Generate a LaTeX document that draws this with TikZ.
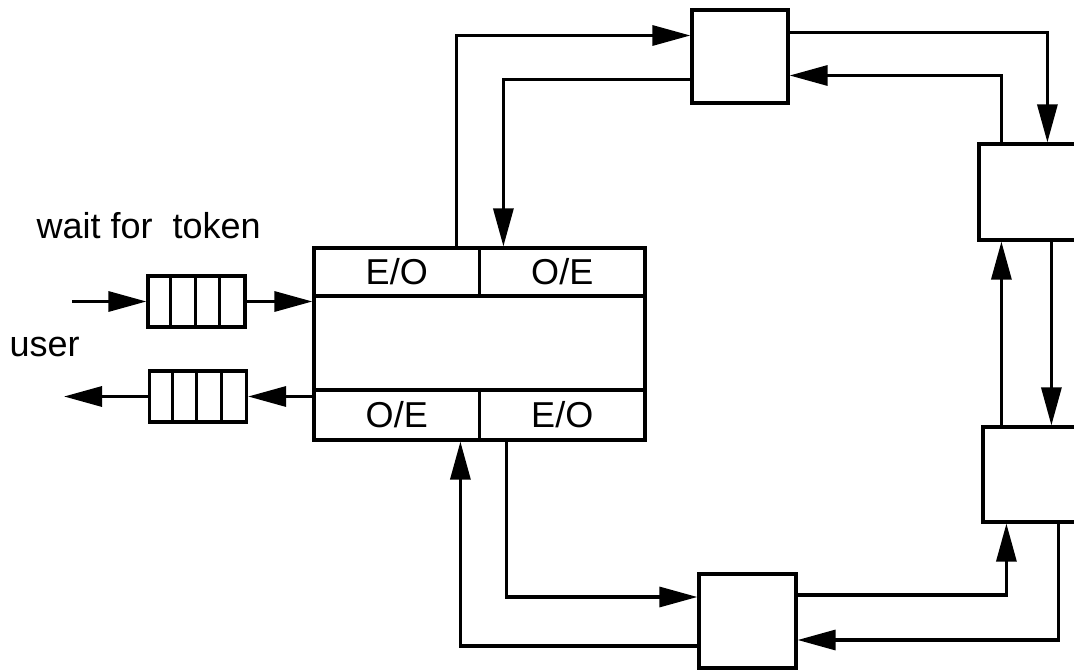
\documentclass[tikz,border=0pt]{standalone}
\usepackage{fontspec}
\setmainfont{Liberation Sans}
\usepackage{tikz}
\usetikzlibrary{arrows.meta,positioning}

\begin{document}
\begin{tikzpicture}[
  x=1pt,y=1pt,
  line width=3.2pt,
  box/.style={rectangle,draw,line width=3.2pt,inner sep=0pt},
  cell/.style={rectangle,draw,line width=3.2pt,minimum width=165.5pt,minimum height=48pt,inner sep=0pt,font=\fontsize{36}{40}\selectfont},
  queue/.style={rectangle,draw,line width=3.2pt,minimum width=97pt,minimum height=51pt,inner sep=0pt},
  lbl/.style={inner sep=0pt,font=\fontsize{36}{40}\selectfont},
  arrow/.style={-{Triangle[length=38pt,width=20pt]}}
]
  \useasboundingbox (0,0) rectangle (1074,670);
  \clip (0,0) rectangle (1074,670);

  \node[box,minimum width=331pt,minimum height=192pt] (main) at (479.5,326) {};
  \node[cell,anchor=north west] (eoT) at (main.north west) {E/O};
  \node[cell,anchor=north east] (oeT) at (main.north east) {O/E};
  \node[cell,anchor=south west,minimum height=50pt] (oeB) at (main.south west) {O/E};
  \node[cell,anchor=south east,minimum height=50pt] (eoB) at (main.south east) {E/O};

  \node[queue] (qin) at (196.5,368.5) {};
  \node[queue] (qout) at (198,273.5) {};
  \foreach \q in {qin,qout}
    \foreach \i in {1,2,3}
      \draw ([xshift=\i*24.4pt]\q.north west) -- ([xshift=\i*24.4pt]\q.south west);

  \node[lbl,anchor=base west] (wait) at (35,431) {wait for~ token};
  \node[lbl,anchor=base west] (user) at (8,313) {user};

  \coordinate (src) at (72,368.5);
  \coordinate (dst) at (64,273.5);

  \node[box,minimum width=96pt,minimum height=93pt] (relTop) at (740,613.5) {};
  \node[box,minimum width=106pt,minimum height=96pt] (relR1) at (1032,478) {};
  \node[box,minimum width=102pt,minimum height=95pt] (relR2) at (1034,195.5) {};
  \node[box,minimum width=97pt,minimum height=94pt] (relBot) at (747.5,49) {};

  \draw[arrow] (src) -- (qin.west);
  \draw[arrow] (qin.east) -- (qin.east -| main.west);
  \draw[arrow] (main.west |- qout.east) -- (qout.east);
  \draw[arrow] (qout.west) -- (dst);

  \draw[arrow] ([xshift=144pt]main.north west) |- ([yshift=21pt]relTop.west);
  \draw[arrow] ([yshift=-23pt]relTop.west) -| ([xshift=191pt]main.north west);
  \draw[arrow] ([yshift=24pt]relTop.east) -| ([xshift=70pt]relR1.north west);
  \draw[arrow] ([xshift=24pt]relR1.north west) |- ([yshift=-19pt]relTop.east);
  \draw[arrow] ([xshift=20pt]relR2.north west) -- ([xshift=20pt]relR2.north west |- relR1.south);
  \draw[arrow] ([xshift=74pt]relR1.south west) -- ([xshift=74pt]relR1.south west |- relR2.north);
  \draw[arrow] ([yshift=26pt]relBot.east) -| ([xshift=25pt]relR2.south west);
  \draw[arrow] ([xshift=77pt]relR2.south west) |- ([yshift=-19pt]relBot.east);
  \draw[arrow] ([xshift=194pt]main.south west) |- ([yshift=24pt]relBot.west);
  \draw[arrow] ([yshift=-25pt]relBot.west) -| ([xshift=148pt]main.south west);
\end{tikzpicture}
\end{document}
